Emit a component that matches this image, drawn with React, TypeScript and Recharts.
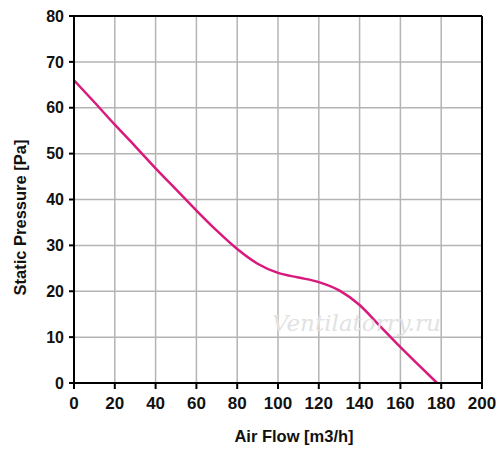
import React from 'react'
import { LineChart, Line, XAxis, YAxis, CartesianGrid, ReferenceLine, Label } from 'recharts'

const AIR_FLOW = [0, 10, 20, 30, 40, 50, 60, 70, 80, 90, 100, 110, 120, 130, 140, 150, 160, 170, 178]
const PRESSURE = [66, 61.2, 56.3, 51.6, 46.8, 42.2, 37.6, 33.2, 29.2, 26, 24, 23, 22, 20.2, 17, 12.4, 7.8, 3.45, 0]
const X_TICKS = [0, 20, 40, 60, 80, 100, 120, 140, 160, 180, 200]
const Y_TICKS = [0, 10, 20, 30, 40, 50, 60, 70, 80]

const data = AIR_FLOW.map((flow, i) => ({ flow, pressure: PRESSURE[i] }))

const FONT = 'Liberation Sans, Arial, sans-serif'
const xTickStyle = { fill: '#111', fontSize: 17, fontWeight: 'bold', fontFamily: FONT }
const yTickStyle = { fill: '#111', fontSize: 16, fontWeight: 'bold', fontFamily: FONT }

export default function App() {
  return (
    <div style={{ position: 'absolute', left: 0, top: 0, width: 500, height: 453, background: '#fff' }}>
      <LineChart width={500} height={453} data={data} margin={{ top: 16, right: 18, left: 0, bottom: 0 }}>
        <CartesianGrid stroke="#b4b4b4" strokeWidth={1.5} />
        <XAxis
          dataKey="flow"
          type="number"
          domain={[0, 200]}
          ticks={X_TICKS}
          height={70}
          stroke="#000"
          strokeWidth={2}
          tickSize={6}
          tickMargin={8}
          tick={xTickStyle}
        >
          <Label
            value="Air Flow [m3/h]"
            position="insideBottom"
            offset={11}
            dx={16}
            style={{ fill: '#111', fontSize: 16.5, fontWeight: 'bold', fontFamily: FONT }}
          />
        </XAxis>
        <YAxis
          type="number"
          domain={[0, 80]}
          ticks={Y_TICKS}
          width={74}
          stroke="#000"
          strokeWidth={2}
          tickSize={5}
          tickMargin={5}
          tick={yTickStyle}
        >
          <Label
            value="Static Pressure [Pa]"
            angle={-90}
            position="insideLeft"
            offset={20}
            dy={18}
            style={{ textAnchor: 'middle', fill: '#111', fontSize: 16.5, fontWeight: 'bold', fontFamily: FONT }}
          />
        </YAxis>
        <ReferenceLine y={80} stroke="#000" strokeWidth={2} />
        <ReferenceLine x={200} stroke="#000" strokeWidth={2} />
        <Line
          type="monotone"
          dataKey="pressure"
          stroke="#d91a7c"
          strokeWidth={2.5}
          dot={false}
          isAnimationActive={false}
        />
      </LineChart>
      <div
        style={{
          position: 'absolute',
          left: 272,
          top: 310,
          fontFamily: 'DejaVu Serif, serif',
          fontStyle: 'italic',
          fontSize: 23,
          color: '#e2e2e2',
          pointerEvents: 'none',
        }}
      >
        Ventilatorry.ru
      </div>
    </div>
  )
}
